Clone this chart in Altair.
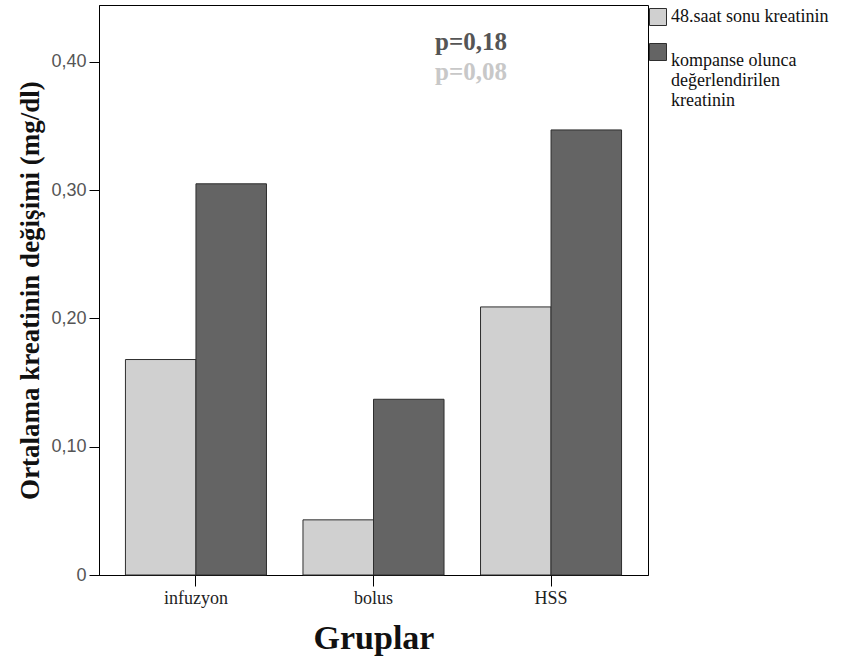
import altair as alt
import pandas as pd

groups = ["infuzyon", "bolus", "HSS"]
series = ["48.saat sonu kreatinin", "kompanse olunca|değerlendirilen|kreatinin"]
light_vals = [0.168, 0.043, 0.209]
dark_vals = [0.305, 0.137, 0.347]
colors = ["#d0d0d0", "#646464"]
y_ticks = [0, 0.1, 0.2, 0.3, 0.4]
p_texts = ["p=0,18", "p=0,08"]
p_colors = ["#555555", "#c8c8c8"]

rows = []
for g, a, b in zip(groups, light_vals, dark_vals):
    rows.append({"grup": g, "seri": series[0], "deger": a})
    rows.append({"grup": g, "seri": series[1], "deger": b})
df = pd.DataFrame(rows)

SERIF = "Liberation Serif"

bars = alt.Chart(df).mark_bar(stroke="#2e2e2e", strokeWidth=1).encode(
    x=alt.X(
        "grup:N",
        sort=groups,
        scale=alt.Scale(paddingInner=0.2056, paddingOuter=0.149),
        axis=alt.Axis(
            title="Gruplar",
            labelAngle=0,
            tickSize=11,
            labelPadding=3,
            labelFont=SERIF,
            labelFontSize=18,
            labelColor="#222222",
            labelBaseline="top",
            titleFont=SERIF,
            titleFontSize=34,
            titleFontWeight="bold",
            titleColor="#111111",
            titleY=63,
            titleBaseline="middle",
        ),
    ),
    xOffset=alt.XOffset("seri:N", sort=series, scale=alt.Scale(paddingInner=0, paddingOuter=0)),
    y=alt.Y(
        "deger:Q",
        scale=alt.Scale(domain=[0, 0.4444], nice=False),
        axis=alt.Axis(
            title="Ortalama kreatinin değişimi (mg/dl)",
            values=y_ticks,
            labelExpr="datum.value == 0 ? '0' : replace(format(datum.value, '.2f'), '.', ',')",
            tickSize=10,
            labelPadding=3,
            labelFont="Liberation Sans",
            labelFontSize=18,
            labelColor="#555555",
            titleFont=SERIF,
            titleFontSize=27,
            titleFontWeight="bold",
            titleColor="#111111",
            titleX=-69,
            titleBaseline="middle",
            grid=False,
        ),
    ),
    color=alt.Color(
        "seri:N",
        sort=series,
        scale=alt.Scale(domain=series, range=colors),
        legend=alt.Legend(
            title=None,
            orient="none",
            legendX=550,
            legendY=3,
            symbolType="square",
            symbolSize=289,
            symbolStrokeColor="#2e2e2e",
            symbolStrokeWidth=1,
            labelFont=SERIF,
            labelFontSize=18,
            labelColor="#111111",
            labelOffset=4,
            labelLimit=300,
            rowPadding=13,
            padding=0,
            labelExpr="split(datum.label, '|')",
            labelBaseline=alt.ExprRef(expr="indexof(datum.label, '|') >= 0 ? 'top' : 'middle'"),
        ),
    ),
)

p1 = alt.Chart(pd.DataFrame({"t": [p_texts[0]]})).mark_text(
    font=SERIF, fontSize=25, fontWeight="bold", align="center", baseline="middle"
).encode(text="t:N", x=alt.value(372), y=alt.value(37), color=alt.value(p_colors[0]))

p2 = alt.Chart(pd.DataFrame({"t": [p_texts[1]]})).mark_text(
    font=SERIF, fontSize=25, fontWeight="bold", align="center", baseline="middle"
).encode(text="t:N", x=alt.value(372), y=alt.value(67), color=alt.value(p_colors[1]))

chart = alt.layer(bars, p1, p2).properties(
    width=549,
    height=570,
    padding={"left": 99, "top": 5, "right": 210, "bottom": 91},
    autosize=alt.AutoSizeParams(type="none"),
).configure_view(stroke="#000000", strokeWidth=1).configure_axis(
    domainColor="#000000", tickColor="#000000", domainWidth=1, tickWidth=1
).configure_legend(
    labelFont=SERIF, labelFontSize=18, labelColor="#111111"
)

chart.save("out.html", embed_options={"renderer": "svg", "actions": False})
